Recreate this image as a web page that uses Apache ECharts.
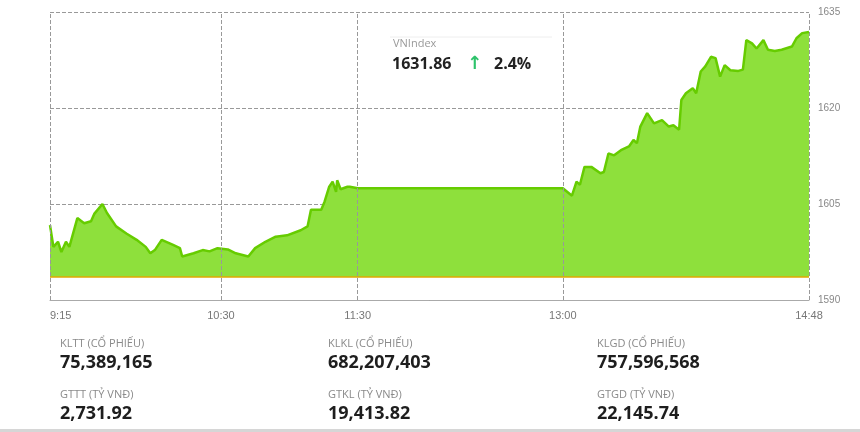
<!DOCTYPE html>
<html><head><meta charset="utf-8">
<script src="https://cdn.jsdelivr.net/npm/echarts@6/dist/echarts.min.js"></script>
<style>html,body{margin:0;padding:0;background:#fff}#c{width:860px;height:432px}</style>
</head><body><div id="c"></div>
<script>
// minutes since 9:15 (continuous trading-time axis, lunch 11:30-13:00 flat)
const minutes = [0,1.5,3.5,5,7,8.5,12,15,18,19.5,23,25,29,33.5,38,42,44,46,49,54,57,58,63,67,70,73.5,78,81.5,87,90,94.5,99,104,110,113,114.5,119,120.5,122.5,124,125.5,126,127.5,130.5,131.5,135,225,229,231,232.5,234.5,237.5,241.5,243,245,247.5,250.5,254,256,257.5,259,262,265,268.5,271.5,273.5,276,277,279,282,283.5,285.5,287.5,290,292,294,296,298.5,302,304,305.5,308,310,313,315,318,321,325.5,327.5,330,333];
const values = [1601.7,1598.3,1599.1,1597.5,1599.1,1598.3,1602.8,1602.0,1602.3,1603.5,1605.0,1603.6,1601.5,1600.4,1599.4,1598.3,1597.3,1597.8,1599.4,1598.6,1598.1,1596.8,1597.3,1597.8,1597.6,1598.1,1597.9,1597.3,1596.8,1598.1,1599.1,1599.9,1600.1,1600.9,1601.5,1604.1,1604.1,1605.4,1607.7,1608.5,1606.9,1608.7,1607.3,1607.7,1607.7,1607.45,1607.45,1606.3,1608.5,1608.0,1610.8,1610.8,1609.8,1610.0,1612.9,1612.6,1613.4,1614.0,1615.0,1614.5,1617.1,1619.2,1617.6,1618.1,1617.1,1617.3,1616.6,1621.25,1622.3,1623.1,1622.3,1625.7,1626.5,1628.0,1627.8,1624.9,1626.7,1625.9,1625.8,1626.0,1630.6,1630.1,1629.3,1630.6,1629.1,1628.9,1629.1,1629.6,1630.9,1631.7,1631.86];
const refPrice = 1593.6;
const tickMinutes = [0,75,135,225,333];
const tickLabels = ['9:15','10:30','11:30','13:00','14:48'];
const yTicks = [1590,1605,1620,1635];
const statLabels = ['KLTT (CỔ PHIẾU)','KLKL (CỔ PHIẾU)','KLGD (CỔ PHIẾU)','GTTT (TỶ VNĐ)','GTKL (TỶ VNĐ)','GTGD (TỶ VNĐ)'];
const statValues = ['75,389,165','682,207,403','757,596,568','2,731.92','19,413.82','22,145.74'];
const indexName = 'VNIndex', indexValue = '1631.86', indexChange = '2.4%';

const chart = echarts.init(document.getElementById('c'));
const colX = [60,328,597];
const g = [];
statLabels.forEach((t,i)=>{
  const x = colX[i%3], row = Math.floor(i/3);
  g.push({type:'text',left:x,top:338+row*51,style:{text:t,fill:'#8a8a8a',font:'11px "Open Sans", sans-serif'}});
  g.push({type:'text',left:x,top:354+row*51,style:{text:statValues[i],fill:'#1e1e1e',font:'bold 18px "Open Sans", sans-serif'}});
});
g.push({type:'rect',shape:{x:0,y:429,width:860,height:3},style:{fill:'#d6d6d6'}});
g.push({type:'rect',shape:{x:390,y:37,width:160,height:48},style:{fill:'rgba(255,255,255,0.92)'}});
g.push({type:'line',shape:{x1:390,y1:37,x2:552,y2:37},style:{stroke:'#eeeeee',lineWidth:1}});
g.push({type:'text',left:393,top:38,style:{text:indexName,fill:'#999',font:'11px "Open Sans", sans-serif'}});
g.push({type:'text',left:392,top:56,style:{text:indexValue,fill:'#222',font:'bold 16px "Open Sans", sans-serif'}});
g.push({type:'text',left:467,top:55,style:{text:'↑',fill:'#2ec36b',font:'bold 18px "DejaVu Sans", sans-serif'}});
g.push({type:'text',left:494,top:56,style:{text:indexChange,fill:'#222',font:'bold 16px "Open Sans", sans-serif'}});

chart.setOption({
  animation:false,
  grid:{left:50,right:51,top:12,bottom:132},
  xAxis:{type:'value',min:0,max:333,
    axisLine:{show:true,lineStyle:{color:'#aaa'}},
    axisTick:{show:false},splitLine:{show:false},
    axisLabel:{customValues:tickMinutes,color:'#777',fontSize:11,margin:10,alignMinLabel:'left',
      formatter:v=>tickLabels[tickMinutes.indexOf(v)]||''}},
  yAxis:{type:'value',position:'right',min:1590,max:1635,interval:15,
    axisLine:{show:false},axisTick:{show:false},
    axisLabel:{color:'#888',fontSize:10,margin:9,formatter:v=>String(v)},
    splitLine:{lineStyle:{type:'dashed',color:'#999'}}},
  graphic:g,
  series:[{type:'line',data:minutes.map((m,i)=>[m,values[i]]),showSymbol:false,
    lineStyle:{color:'#66cc00',width:2.5},
    areaStyle:{color:'#8ee03c',origin:refPrice,opacity:1},
    markLine:{silent:true,symbol:'none',label:{show:false},
      data:[
        {yAxis:refPrice,lineStyle:{color:'#e0a800',type:'solid',width:1.5}},
        ...tickMinutes.map(m=>({xAxis:m,lineStyle:{color:'#999',type:'dashed',width:1}}))
      ]}}]
});
</script></body></html>
